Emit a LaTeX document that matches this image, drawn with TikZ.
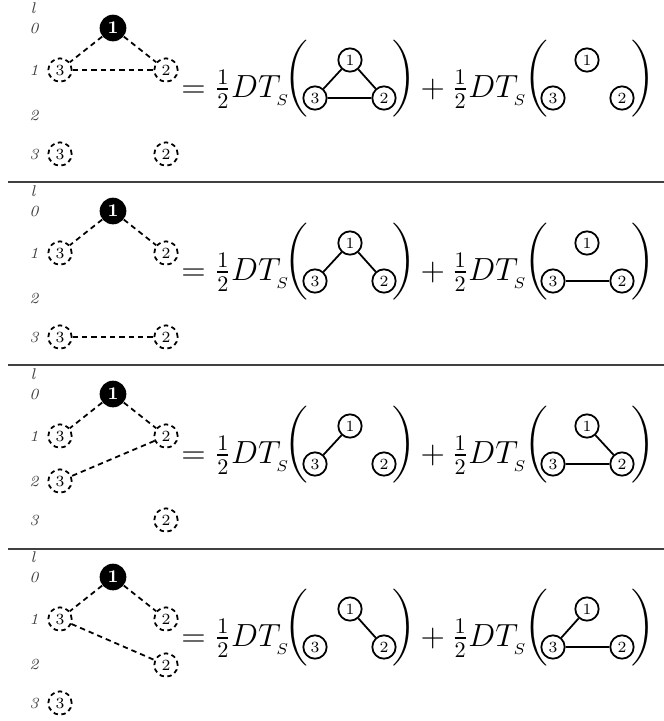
\documentclass[tikz,border=0pt]{standalone}
\usepackage{amsmath}
\usepackage{exscale}
\newcommand{\lbig}{$\left(\vrule height 15.5pt depth 15.5pt width 0pt\right.$}
\newcommand{\rbig}{$\left.\vrule height 15.5pt depth 15.5pt width 0pt\right)$}
\tikzset{
	lvl/.style={font=\scriptsize\itshape, text=black!75},
	root/.style={circle, fill=black, text=white, font=\footnotesize\bfseries, inner sep=0pt, minimum size=12pt},
	dvert/.style={circle, draw, thick, dash pattern=on 2pt off 1.6pt, font=\scriptsize, inner sep=0pt, minimum size=10.5pt},
	vert/.style={circle, draw, thick, font=\scriptsize, inner sep=0pt, minimum size=10.5pt},
	dlink/.style={thick, dash pattern=on 2.4pt off 1.8pt},
	link/.style={thick},
	eq/.style={anchor=base west, font=\Large, inner sep=0pt},
	paren/.style={font=\Large, inner sep=0pt},
	rowline/.style={black!75, line width=0.6pt},
}

\begin{document}
\begin{tikzpicture}[x=0.45pt, y=-0.45pt]
	\useasboundingbox (0,0) rectangle (664,721);
	% what every row has
	\foreach \r in {1,2,3,4} {
		\begin{scope}[shift={(0,{183*(\r-1)})}]
			% levels
			\node[lvl] (l\r) at (33,8) {l};
			\foreach \k/\y in {0/28,1/70,2/115,3/154}
				\node[lvl] (lv\r\k) at (34,\y) {\k};
			% root and first level
			\node[root] (o\r) at (113,28) {1};
			\node[dvert] (x\r) at (60,70) {3};
			\node[dvert] (y\r) at (166,70) {2};
			\draw[dlink] (o\r) -- (x\r);
			\draw[dlink] (o\r) -- (y\r);
			% right hand side
			\node[eq] (e\r) at (181,97) {$=\frac{1}{2}DT_{_S}$};
			\node[paren] (pa\r) at (298,81) {\lbig};
			\node[vert] (a\r) at (350,60) {1};
			\node[vert] (b\r) at (315,98) {3};
			\node[vert] (c\r) at (384,98) {2};
			\node[paren] (pb\r) at (403,81) {\rbig};
			\node[eq] (f\r) at (413,97) {${}+\frac{1}{2}DT_{_S}$};
			\node[paren] (pc\r) at (538,81) {\lbig};
			\node[vert] (d\r) at (587,60) {1};
			\node[vert] (g\r) at (553,98) {3};
			\node[vert] (h\r) at (622,98) {2};
			\node[paren] (pd\r) at (642,81) {\rbig};
		\end{scope}
	}
	% separators
	\draw[rowline] (8,182) -- (664,182);
	\draw[rowline] (8,365) -- (664,365);
	\draw[rowline] (8,549) -- (664,549);
	% first row
	\node[dvert] (u1) at (60,154) {3};
	\node[dvert] (v1) at (166,154) {2};
	\draw[dlink] (x1) -- (y1);
	\draw[link] (a1) -- (b1) (a1) -- (c1) (b1) -- (c1);
	% second row
	\node[dvert] (u2) at (60,337) {3};
	\node[dvert] (v2) at (166,337) {2};
	\draw[dlink] (u2) -- (v2);
	\draw[link] (a2) -- (b2) (a2) -- (c2);
	\draw[link] (g2) -- (h2);
	% third row
	\node[dvert] (u3) at (60,481) {3};
	\node[dvert] (v3) at (166,520) {2};
	\draw[dlink] (y3) -- (u3);
	\draw[link] (a3) -- (b3);
	\draw[link] (d3) -- (h3) (g3) -- (h3);
	% fourth row
	\node[dvert] (v4) at (166,665) {2};
	\node[dvert] (u4) at (60,703) {3};
	\draw[dlink] (x4) -- (v4);
	\draw[link] (a4) -- (c4);
	\draw[link] (d4) -- (g4) (g4) -- (h4);
\end{tikzpicture}
\end{document}
